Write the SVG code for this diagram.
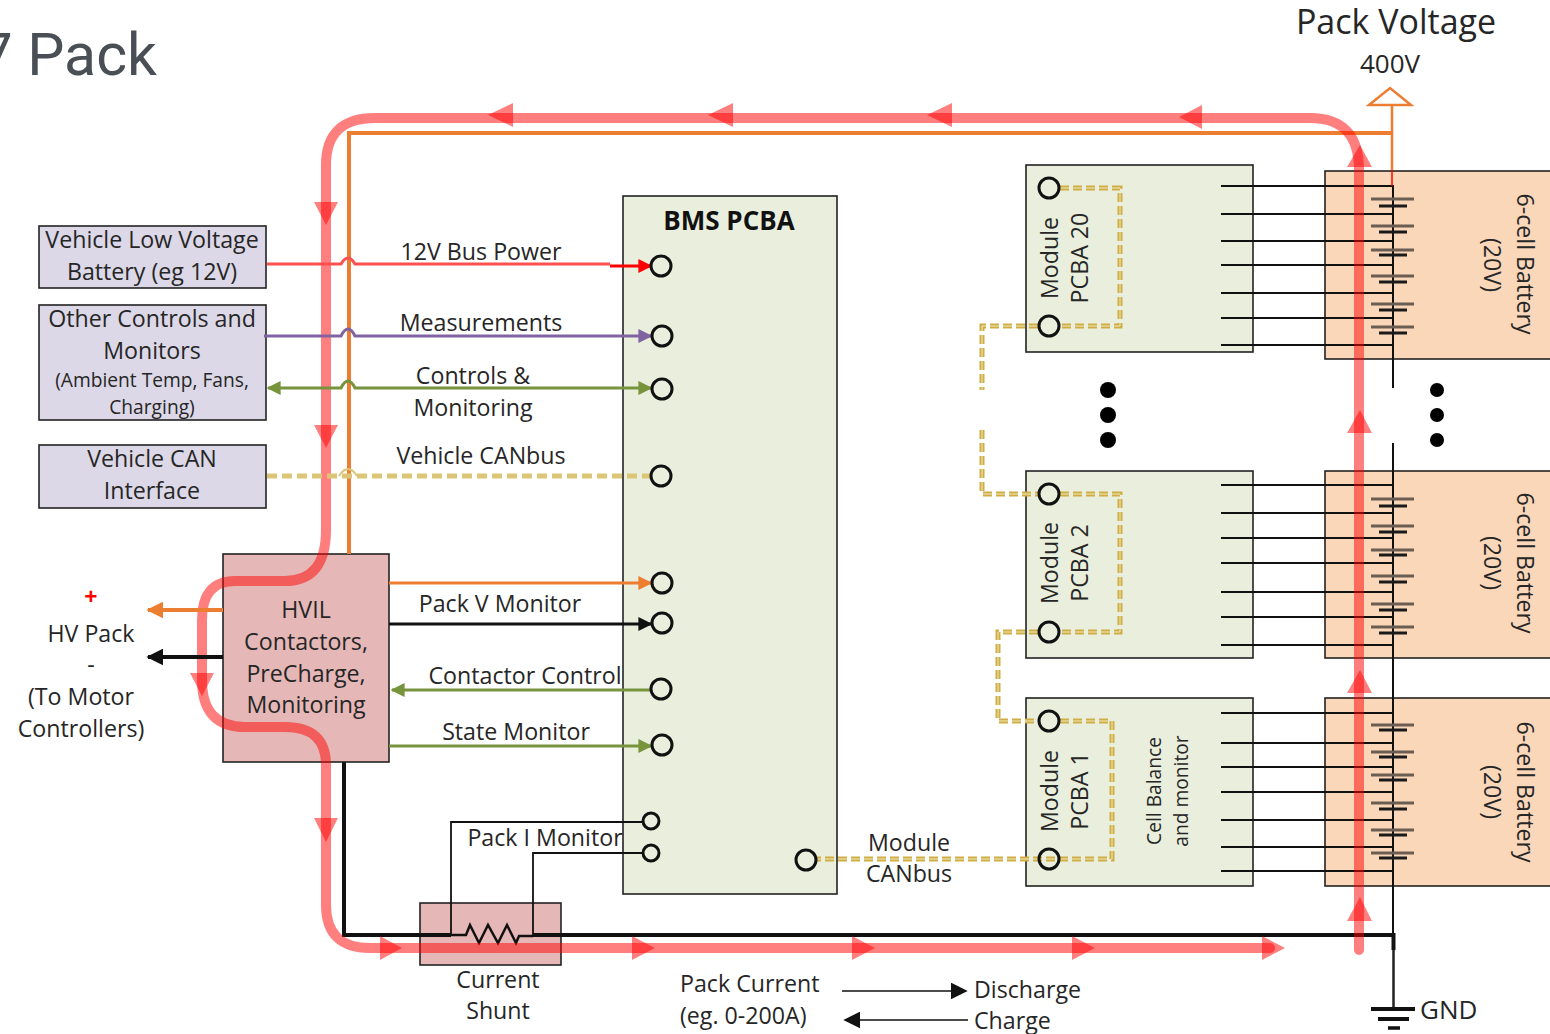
<svg xmlns="http://www.w3.org/2000/svg" width="1550" height="1034" viewBox="0 0 1550 1034">
<style>
text{font-family:"Open Sans","Noto Sans","Liberation Sans",sans-serif;font-size:23.2px;fill:#262626;text-anchor:middle}
.l{text-anchor:start}
.s{font-size:19.2px}
.title{font-family:Roboto,"Open Sans",sans-serif;font-size:59px;fill:#4a4f55;text-anchor:end}
.box{stroke:#222;stroke-width:1.6}
.pu{fill:#dcd8e7}.gr{fill:#e9efdc}.ba{fill:#fad7b9}.hv{fill:#e5b8b7}
.w{stroke:#111;stroke-width:1.8;fill:none}
.bar{stroke:#1a1a1a;stroke-width:3;fill:none}
.bar1{stroke:#6b5d52;stroke-width:3;fill:none}
.pin{fill:none;stroke:#111;stroke-width:3}
.can{fill:none;stroke:#cfae45;stroke-width:5;stroke-dasharray:9 4}
.can2{fill:none;stroke:#f1e8c2;stroke-width:1;stroke-dasharray:9 4}
.cur{fill:none;stroke:#f00;stroke-opacity:.5;stroke-width:10;stroke-linecap:round}
.curh{fill:#f00;fill-opacity:.5}
.sig{fill:none;stroke-width:3}
</style>
<defs>
<marker id="aK" viewBox="0 0 10 10" refX="9" refY="5" markerWidth="14" markerHeight="14" markerUnits="userSpaceOnUse" orient="auto-start-reverse"><path d="M0 0L10 5L0 10z" fill="#111"/></marker>
<marker id="aO" viewBox="0 0 10 10" refX="9" refY="5" markerWidth="14" markerHeight="14" markerUnits="userSpaceOnUse" orient="auto-start-reverse"><path d="M0 0L10 5L0 10z" fill="#ed7d31"/></marker>
<marker id="aKL" viewBox="0 0 10 10" refX="9" refY="5" markerWidth="17" markerHeight="17" markerUnits="userSpaceOnUse" orient="auto"><path d="M0 0L10 5L0 10z" fill="#111"/></marker>
<marker id="aOL" viewBox="0 0 10 10" refX="9" refY="5" markerWidth="17" markerHeight="17" markerUnits="userSpaceOnUse" orient="auto"><path d="M0 0L10 5L0 10z" fill="#ed7d31"/></marker>
<marker id="aG" viewBox="0 0 10 10" refX="9" refY="5" markerWidth="14" markerHeight="14" markerUnits="userSpaceOnUse" orient="auto-start-reverse"><path d="M0 0L10 5L0 10z" fill="#77933c"/></marker>
<marker id="aP" viewBox="0 0 10 10" refX="9" refY="5" markerWidth="14" markerHeight="14" markerUnits="userSpaceOnUse" orient="auto-start-reverse"><path d="M0 0L10 5L0 10z" fill="#8064a2"/></marker>
<marker id="aR" viewBox="0 0 10 10" refX="9" refY="5" markerWidth="14" markerHeight="14" markerUnits="userSpaceOnUse" orient="auto-start-reverse"><path d="M0 0L10 5L0 10z" fill="#f00"/></marker>
</defs>
<text class="title" x="157" y="75">7 Pack</text>

<g id="n-lv"><rect class="box pu" x="39" y="226" width="227" height="62"/><text x="152" y="248">Vehicle Low Voltage</text><text x="152" y="280">Battery (eg 12V)</text></g>
<g id="n-other"><rect class="box pu" x="39" y="305" width="227" height="115"/><text x="152" y="327">Other Controls and</text><text x="152" y="359">Monitors</text><text class="s" x="152" y="387">(Ambient Temp, Fans,</text><text class="s" x="152" y="414">Charging)</text></g>
<g id="n-can"><rect class="box pu" x="39" y="445" width="227" height="63"/><text x="152" y="467">Vehicle CAN</text><text x="152" y="499">Interface</text></g>
<g id="n-bms"><rect class="box gr" x="623" y="196" width="214" height="698"/><text x="729" y="230" style="font-weight:700;font-size:26px;fill:#111">BMS PCBA</text></g>
<g id="n-hvil"><rect class="box hv" x="223" y="554" width="166" height="208"/><text x="306" y="618">HVIL</text><text x="306" y="650">Contactors,</text><text x="306" y="682">PreCharge,</text><text x="306" y="713">Monitoring</text></g>
<g id="n-shunt"><rect class="box hv" x="420" y="903" width="141" height="62"/></g>

<g id="n-mod20"><rect class="box gr" x="1026" y="165" width="227" height="187"/><text transform="translate(1058 258) rotate(-90)">Module</text><text transform="translate(1088 258) rotate(-90)">PCBA 20</text></g>
<g id="n-mod2"><rect class="box gr" x="1026" y="471" width="227" height="187"/><text transform="translate(1058 563) rotate(-90)">Module</text><text transform="translate(1088 563) rotate(-90)">PCBA 2</text></g>
<g id="n-mod1"><rect class="box gr" x="1026" y="698" width="227" height="188"/><text transform="translate(1058 791) rotate(-90)">Module</text><text transform="translate(1088 791) rotate(-90)">PCBA 1</text><text class="s" transform="translate(1161 791) rotate(-90)">Cell Balance</text><text class="s" transform="translate(1188 791) rotate(-90)">and monitor</text></g>

<g id="n-bat20"><rect class="box ba" x="1325" y="171" width="240" height="188"/><text transform="translate(1517 264) rotate(90)">6-cell Battery</text><text transform="translate(1484 265) rotate(90)">(20V)</text></g>
<g id="n-bat2"><rect class="box ba" x="1325" y="471" width="240" height="187"/><text transform="translate(1517 563) rotate(90)">6-cell Battery</text><text transform="translate(1484 563) rotate(90)">(20V)</text></g>
<g id="n-bat1"><rect class="box ba" x="1325" y="698" width="240" height="188"/><text transform="translate(1517 792) rotate(90)">6-cell Battery</text><text transform="translate(1484 792) rotate(90)">(20V)</text></g>

<g id="connectors">
<path class="w" d="M1221 186H1394M1221 214H1394M1221 241H1394M1221 265H1394M1221 293H1394M1221 318H1394M1221 345H1394"/>
<path class="w" d="M1221 485H1394M1221 513H1394M1221 538H1394M1221 563H1394M1221 592H1394M1221 617H1394M1221 645H1394"/>
<path class="w" d="M1221 713H1394M1221 743H1394M1221 767H1394M1221 792H1394M1221 820H1394M1221 847H1394M1221 871H1394"/>
<path class="w" d="M1393 186V388M1393 443V935" style="stroke-width:2"/>
<path class="bar1" d="M1371 199H1414M1371 226H1414M1371 250H1414M1371 276H1414M1371 304H1414M1371 327H1414M1371 499H1414M1371 526H1414M1371 550H1414M1371 576H1414M1371 604H1414M1371 627H1414M1371 725H1414M1371 752H1414M1371 775H1414M1371 803H1414M1371 830H1414M1371 853H1414"/>
<path class="bar" d="M1379 206H1407M1379 232H1407M1379 255H1407M1379 282H1407M1379 310H1407M1379 333H1407M1379 506H1407M1379 532H1407M1379 555H1407M1379 582H1407M1379 610H1407M1379 633H1407M1379 730H1407M1379 757H1407M1379 780H1407M1379 809H1407M1379 835H1407M1379 858H1407"/>

<path d="M344 762V935H451" fill="none" stroke="#111" stroke-width="4"/>
<path d="M533 935H1394" fill="none" stroke="#111" stroke-width="4"/>
<path d="M1393.500 933V950" fill="none" stroke="#111" stroke-width="4"/>
<path d="M451 935H466L470 925L479 943L488 925L498 943L507 925L516 943L519 936H533" fill="none" stroke="#111" stroke-width="2.500"/>
<path d="M1393.500 950V1009" stroke="#222" stroke-width="2.500" fill="none"/>
<path d="M1371 1009H1415M1378 1019H1409" stroke="#111" stroke-width="4" fill="none"/>
<path d="M1388 1028H1400" stroke="#111" stroke-width="3.500" fill="none"/>

<path class="w" d="M451 935V822H642M533 935V853H642"/>

<path d="M349 554V133H1392" fill="none" stroke="#ed7d31" stroke-width="4"/>
<path d="M1392 104V170" fill="none" stroke="#ed7d31" stroke-width="2.500"/>
<path d="M1392 170V186" fill="none" stroke="#f00" stroke-width="1.500"/>
<path d="M1369 105L1390 88L1411 105z" fill="#fff" stroke="#ed7d31" stroke-width="2.500"/>

<path class="cur" d="M1359 950V170Q1359 118 1310 118H375Q326 118 326 165V530Q326 581 285 581H235Q202 581 202 620V680Q202 727 245 727H285Q326 727 326 765V905Q326 948 370 948H1270"/>
<path class="curh" d="M1202 105L1179 117L1202 129zM952 103L927 115L952 127zM733 103L708 115L733 127zM513 103L488 115L513 127zM314 202H338L326 225zM314 425H338L326 448zM314 818H338L326 842zM190 673H214L202 696zM380 936L402 948L380 960zM632 936L655 948L632 960zM852 936L875 948L852 960zM1072 936L1095 948L1072 960zM1262 936L1285 948L1262 960zM1347 167L1360 145L1372 167zM1347 433L1360 410L1372 433zM1347 693L1360 670L1372 693zM1347 921L1360 897L1372 921z"/>

<path class="sig" d="M267 264H341Q348 252 355 264H610" stroke="#ff5050"/>
<path class="sig" d="M610 266H651" stroke="#f00" marker-end="url(#aR)"/>
<path class="sig" d="M264 336H341Q348 322 355 336H651" stroke="#8064a2" marker-end="url(#aP)"/>
<path class="sig" d="M268 388H341Q348 374 355 388H651" stroke="#77933c" marker-start="url(#aG)" marker-end="url(#aG)"/>
<path d="M267 476H651" fill="none" stroke="#dcc576" stroke-width="5" stroke-dasharray="10 5"/>
<path d="M339 476Q348 462 357 476" fill="none" stroke="#dcc576" stroke-width="2"/>
<path class="sig" d="M389 583H651" stroke="#ed7d31" marker-end="url(#aO)"/>
<path class="sig" d="M389 624H651" stroke="#111" marker-end="url(#aK)"/>
<path class="sig" d="M651 690H392" stroke="#77933c" marker-end="url(#aG)"/>
<path class="sig" d="M389 746H651" stroke="#77933c" marker-end="url(#aG)"/>
<path d="M223 610H148" fill="none" stroke="#ed7d31" stroke-width="4" marker-end="url(#aOL)"/>
<path d="M223 657H148" fill="none" stroke="#111" stroke-width="4" marker-end="url(#aKL)"/>
<path d="M842 991H966" fill="none" stroke="#111" stroke-width="1.600" marker-end="url(#aKL)"/>
<path d="M968 1020H845" fill="none" stroke="#111" stroke-width="1.600" marker-end="url(#aKL)"/>

<path class="can" d="M1060 188H1120V326H1060M1038 326H982V390M982 430V494H1038M1060 494H1120V632H1060M1038 632H998V721H1038M1060 721H1112V859H817"/>
<path class="can2" d="M1060 188H1120V326H1060M1038 326H982V390M982 430V494H1038M1060 494H1120V632H1060M1038 632H998V721H1038M1060 721H1112V859H817"/>
</g>

<g id="pins">
<circle class="pin" cx="661" cy="266" r="10"/><circle class="pin" cx="662" cy="336" r="10"/><circle class="pin" cx="662" cy="389" r="10"/><circle class="pin" cx="661" cy="476" r="10"/><circle class="pin" cx="662" cy="583" r="10"/><circle class="pin" cx="662" cy="623" r="10"/><circle class="pin" cx="661" cy="689" r="10"/><circle class="pin" cx="662" cy="745" r="10"/><circle class="pin" cx="651" cy="821" r="8"/><circle class="pin" cx="651" cy="853" r="8"/><circle class="pin" cx="806" cy="860" r="10"/>
<circle class="pin" cx="1049" cy="188" r="10"/><circle class="pin" cx="1049" cy="326" r="10"/><circle class="pin" cx="1049" cy="494" r="10"/><circle class="pin" cx="1049" cy="632" r="10"/><circle class="pin" cx="1049" cy="721" r="10"/><circle class="pin" cx="1049" cy="859" r="10"/>
</g>
<g id="dots" fill="#000"><circle cx="1108" cy="390" r="8"/><circle cx="1108" cy="415" r="8"/><circle cx="1108" cy="440" r="8"/><circle cx="1437" cy="390" r="7"/><circle cx="1437" cy="415" r="7"/><circle cx="1437" cy="440" r="7"/></g>

<g id="labels">
<text x="481" y="260">12V Bus Power</text>
<text x="481" y="331">Measurements</text>
<text x="473" y="384">Controls &amp;</text>
<text x="473" y="416">Monitoring</text>
<text x="481" y="464">Vehicle CANbus</text>
<text x="500" y="612">Pack V Monitor</text>
<text x="525" y="684">Contactor Control</text>
<text x="516" y="740">State Monitor</text>
<text x="545" y="846">Pack I Monitor</text>
<text x="909" y="851">Module</text>
<text x="909" y="882">CANbus</text>
<text x="91" y="605" style="font-weight:700;fill:#f00">+</text>
<text x="91" y="642">HV Pack</text>
<text x="91" y="673">-</text>
<text x="81" y="705">(To Motor</text>
<text x="81" y="737">Controllers)</text>
<text x="498" y="988">Current</text>
<text x="498" y="1019">Shunt</text>
<text class="l" x="680" y="992">Pack Current</text>
<text class="l" x="680" y="1024">(eg. 0-200A)</text>
<text class="l" x="974" y="998">Discharge</text>
<text class="l" x="974" y="1029">Charge</text>
<text class="l" x="1420" y="1019" style="font-size:26px">GND</text>
<text x="1396" y="34" style="font-size:34px">Pack Voltage</text>
<text x="1390" y="73" style="font-size:26px">400V</text>
</g>
</svg>
